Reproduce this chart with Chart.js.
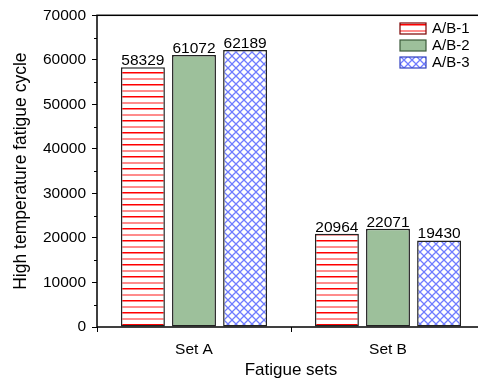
<!DOCTYPE html>
<html>
<head>
<meta charset="utf-8">
<script src="https://cdn.jsdelivr.net/npm/chart.js@4"></script>
<style>
  html, body { margin: 0; padding: 0; background: #fff; overflow: hidden; }
  #wrap { width: 490px; height: 382px; }
</style>
</head>
<body>
<div id="wrap"><canvas id="chart"></canvas></div>
<script>
const categories = ['Set A', 'Set B'];
const seriesNames = ['A/B-1', 'A/B-2', 'A/B-3'];
const seriesAB1 = [58329, 20964];
const seriesAB2 = [61072, 22071];
const seriesAB3 = [62189, 19430];
const yTicks = [0, 10000, 20000, 30000, 40000, 50000, 60000, 70000];

const FONT = 'Arial, "Liberation Sans", sans-serif';

// horizontal red stripes
function stripePattern() {
    const c = document.createElement('canvas');
    c.width = 8; c.height = 12;
    const g = c.getContext('2d');
    g.fillStyle = '#fff';
    g.fillRect(0, 0, 8, 12);
    g.fillStyle = '#ff0000';
    g.fillRect(0, 0, 8, 1.5);
    g.fillStyle = 'rgba(255,0,0,0.45)';
    g.fillRect(0, 6, 8, 2);
    return g.createPattern(c, 'repeat');
}

// blue diagonal cross-hatch
function hatchPattern() {
    const c = document.createElement('canvas');
    c.width = 8; c.height = 8;
    const g = c.getContext('2d');
    g.fillStyle = '#fff';
    g.fillRect(0, 0, 8, 8);
    g.strokeStyle = '#6f7cff';
    g.lineWidth = 1.3;
    g.beginPath();
    g.moveTo(-1, -1); g.lineTo(9, 9);
    g.moveTo(9, -1); g.lineTo(-1, 9);
    g.stroke();
    return g.createPattern(c, 'repeat');
}

const fills = [stripePattern(), '#9dc09b', hatchPattern()];
const legendBorders = ['#7a0000', '#3b5a3a', '#3040c0'];

// value labels above each bar
const barLabels = {
    id: 'barLabels',
    afterDatasetsDraw(chart) {
        const ctx = chart.ctx;
        ctx.save();
        ctx.font = '15.5px ' + FONT;
        ctx.fillStyle = '#000';
        ctx.textAlign = 'center';
        ctx.textBaseline = 'alphabetic';
        chart.data.datasets.forEach((ds, i) => {
            chart.getDatasetMeta(i).data.forEach((bar, j) => {
                ctx.fillText(String(ds.data[j]), bar.x, bar.y - 2);
            });
        });
        ctx.restore();
    }
};

// frame, minor ticks and legend
const frame = {
    id: 'frame',
    afterDraw(chart) {
        const { ctx, chartArea: a } = chart;
        const y = chart.scales.y;
        ctx.save();
        ctx.strokeStyle = '#000';
        ctx.lineWidth = 1.5;
        ctx.strokeRect(a.left, a.top, a.right - a.left, a.bottom - a.top);
        ctx.lineWidth = 1;
        for (let v = 5000; v < 70000; v += 10000) {
            const py = Math.round(y.getPixelForValue(v)) + 0.5;
            ctx.beginPath();
            ctx.moveTo(a.left - 3, py);
            ctx.lineTo(a.left, py);
            ctx.stroke();
        }
        // legend
        ctx.font = '15px ' + FONT;
        ctx.textBaseline = 'middle';
        ctx.textAlign = 'left';
        chart.data.datasets.forEach((ds, i) => {
            const bx = 400, by = 23 + i * 17;
            ctx.fillStyle = ds.backgroundColor;
            ctx.fillRect(bx, by, 26, 11);
            ctx.strokeStyle = legendBorders[i];
            ctx.lineWidth = 1.2;
            ctx.strokeRect(bx, by, 26, 11);
            ctx.fillStyle = '#000';
            ctx.fillText(ds.label, 432, by + 6);
        });
        ctx.restore();
    }
};

new Chart(document.getElementById('chart'), {
    type: 'bar',
    data: {
        labels: categories,
        datasets: [seriesAB1, seriesAB2, seriesAB3].map((d, i) => ({
            label: seriesNames[i],
            data: d,
            backgroundColor: fills[i],
            borderColor: '#222',
            borderWidth: 1.5,
            borderSkipped: false
        }))
    },
    options: {
        responsive: true,
        maintainAspectRatio: false,
        animation: false,
        categoryPercentage: 0.79,
        barPercentage: 0.86,
        layout: { padding: { top: 15, right: 5, left: 0, bottom: 0 } },
        plugins: {
            legend: { display: false },
            tooltip: { enabled: false }
        },
        scales: {
            x: {
                grid: { display: true, drawOnChartArea: false, drawTicks: true, tickLength: 5, color: '#000', tickColor: '#000' },
                border: { display: false },
                ticks: { color: '#000', font: { family: FONT, size: 15.5 }, padding: 8 },
                title: { display: true, text: 'Fatigue sets', color: '#000', font: { family: FONT, size: 17 }, padding: { top: 2, bottom: 1 } },
                afterFit(s) { s.height = 55; }
            },
            y: {
                min: 0,
                max: 70000,
                afterBuildTicks(s) { s.ticks = yTicks.map(v => ({ value: v })); },
                grid: { display: true, drawOnChartArea: false, drawTicks: true, tickLength: 5, color: '#000', tickColor: '#000' },
                border: { display: false },
                ticks: { color: '#000', font: { family: FONT, size: 15.5 }, padding: 6, callback: v => String(v) },
                title: { display: true, text: 'High temperature fatigue cycle', color: '#000', font: { family: FONT, size: 17.5 }, padding: { top: 11, bottom: 4 } },
                afterFit(s) { s.width = 97; }
            }
        }
    },
    plugins: [barLabels, frame]
});
</script>
</body>
</html>
